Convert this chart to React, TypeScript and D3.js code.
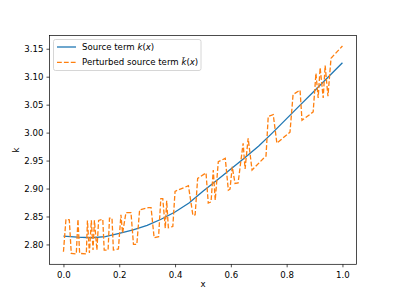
import { useEffect, useRef } from 'react';
import * as d3 from 'd3';

// Source term k(x)
const sourceX = [0, 0.05, 0.1, 0.15, 0.2, 0.25, 0.3, 0.35, 0.4, 0.45, 0.5, 0.55, 0.6, 0.65, 0.7, 0.75, 0.8, 0.85, 0.9, 0.95, 1.0];
const sourceK = [2.815, 2.813, 2.812, 2.814, 2.82, 2.826, 2.834, 2.845, 2.858, 2.874, 2.895, 2.915, 2.935, 2.955, 2.976, 3.0, 3.025, 3.05, 3.075, 3.1, 3.125];

// Perturbed source term, traced vertex by vertex
const pertX = [
  0, 0.009, 0.021, 0.028, 0.046, 0.052, 0.058, 0.082, 0.086, 0.093, 0.1, 0.106, 0.111, 0.12, 0.126, 0.141,
  0.146, 0.16, 0.165, 0.174, 0.179, 0.197, 0.206, 0.212, 0.224, 0.242, 0.251, 0.263, 0.273, 0.305, 0.314,
  0.325, 0.341, 0.349, 0.356, 0.365, 0.37, 0.376, 0.392, 0.4, 0.448, 0.464, 0.472, 0.481, 0.511, 0.519,
  0.529, 0.537, 0.544, 0.555, 0.58, 0.591, 0.597, 0.605, 0.615, 0.626, 0.644, 0.651, 0.662, 0.676, 0.719,
  0.726, 0.734, 0.752, 0.765, 0.812, 0.823, 0.848, 0.855, 0.895, 0.905, 0.913, 0.92, 0.931, 0.938, 0.948,
  0.959, 1.0,
];
const pertK = [
  2.787, 2.845, 2.844, 2.784, 2.783, 2.845, 2.784, 2.783, 2.843, 2.785, 2.843, 2.79, 2.843, 2.79, 2.843, 2.845,
  2.79, 2.79, 2.847, 2.847, 2.79, 2.792, 2.853, 2.82, 2.857, 2.857, 2.8, 2.8, 2.862, 2.866, 2.866,
  2.812, 2.814, 2.882, 2.882, 2.829, 2.878, 2.83, 2.832, 2.895, 2.905, 2.852, 2.853, 2.918, 2.928, 2.874,
  2.876, 2.933, 2.879, 2.948, 2.954, 2.897, 2.899, 2.939, 2.909, 2.91, 2.981, 2.935, 2.99, 2.933, 2.955,
  2.958, 3.029, 3.032, 2.981, 3.001, 3.068, 3.076, 3.022, 3.037, 3.106, 3.062, 3.116, 3.062, 3.12, 3.065,
  3.133, 3.155,
];

const xTicks = [0, 0.2, 0.4, 0.6, 0.8, 1.0];
const yTicks = [2.8, 2.85, 2.9, 2.95, 3.0, 3.05, 3.1, 3.15];

const FONT = 'DejaVu Sans, sans-serif';

const App = () => {
  const svgRef = useRef<SVGSVGElement>(null);

  useEffect(() => {
    if (!svgRef.current) return;
    d3.select(svgRef.current).selectAll('*').remove();

    const width = 396;
    const height = 297;
    const margin = { top: 35.6, right: 39.6, bottom: 32.7, left: 49.5 };

    const svg = d3.select(svgRef.current).attr('width', width).attr('height', height);

    const x = d3.scaleLinear().domain([-0.05, 1.05]).range([margin.left, width - margin.right]);
    const y = d3.scaleLinear().domain([2.7645, 3.1735]).range([height - margin.bottom, margin.top]);

    const line = d3
      .line<[number, number]>()
      .x((d) => x(d[0]))
      .y((d) => y(d[1]));

    // Curves
    svg
      .append('path')
      .datum(sourceX.map((v, i) => [v, sourceK[i]] as [number, number]))
      .attr('d', line)
      .attr('fill', 'none')
      .attr('stroke', '#1f77b4')
      .attr('stroke-width', 1.3);

    svg
      .append('path')
      .datum(pertX.map((v, i) => [v, pertK[i]] as [number, number]))
      .attr('d', line)
      .attr('fill', 'none')
      .attr('stroke', '#ff7f0e')
      .attr('stroke-width', 1.3)
      .attr('stroke-dasharray', '4.8,2.1');

    // Axes
    const xAxis = svg
      .append('g')
      .attr('transform', `translate(0,${height - margin.bottom})`)
      .call(d3.axisBottom(x).tickValues(xTicks).tickFormat(d3.format('.1f')).tickSize(3).tickPadding(4.5).tickSizeOuter(0));
    const yAxis = svg
      .append('g')
      .attr('transform', `translate(${margin.left},0)`)
      .call(d3.axisLeft(y).tickValues(yTicks).tickFormat(d3.format('.2f')).tickSize(3).tickPadding(3).tickSizeOuter(0));

    [xAxis, yAxis].forEach((g) => {
      g.select('.domain').remove();
      g.selectAll('line').attr('stroke', '#000').attr('stroke-width', 0.7);
      g.selectAll('text').attr('font-family', FONT).attr('font-size', 8.6).attr('fill', '#000');
    });

    // Frame
    svg
      .append('rect')
      .attr('x', margin.left)
      .attr('y', margin.top)
      .attr('width', width - margin.left - margin.right)
      .attr('height', height - margin.top - margin.bottom)
      .attr('fill', 'none')
      .attr('stroke', '#000')
      .attr('stroke-width', 0.7);

    // Axis labels
    svg
      .append('text')
      .attr('x', (margin.left + width - margin.right) / 2)
      .attr('y', 287)
      .attr('text-anchor', 'middle')
      .attr('font-family', FONT)
      .attr('font-size', 8.6)
      .text('x');

    svg
      .append('text')
      .attr('transform', `translate(18.5,${(margin.top + height - margin.bottom) / 2}) rotate(-90)`)
      .attr('text-anchor', 'middle')
      .attr('font-family', FONT)
      .attr('font-size', 8.6)
      .text('k');

    // Legend
    const legend = svg.append('g').attr('transform', 'translate(53.5,39.5)');
    legend
      .append('rect')
      .attr('width', 147.5)
      .attr('height', 31)
      .attr('rx', 2)
      .attr('fill', 'rgba(255,255,255,0.8)')
      .attr('stroke', '#cccccc')
      .attr('stroke-width', 0.8);

    const entries = [
      { color: '#1f77b4', dash: null as string | null, pre: 'Source term ', k: 'k' },
      { color: '#ff7f0e', dash: '4.8,2.1', pre: 'Perturbed source term ', k: 'k\u0303' },
    ];
    entries.forEach((e, i) => {
      const cy = 7.5 + i * 15.3;
      const ln = legend
        .append('line')
        .attr('x1', 3.5)
        .attr('x2', 22.5)
        .attr('y1', cy)
        .attr('y2', cy)
        .attr('stroke', e.color)
        .attr('stroke-width', 1.3);
      if (e.dash) ln.attr('stroke-dasharray', e.dash);
      const t = legend
        .append('text')
        .attr('x', 28.5)
        .attr('y', cy + 3.1)
        .attr('font-family', FONT)
        .attr('font-size', 8.6)
        .attr('fill', '#000');
      t.append('tspan').text(e.pre);
      t.append('tspan').attr('font-style', 'italic').text(e.k);
      t.append('tspan').text('(');
      t.append('tspan').attr('font-style', 'italic').text('x');
      t.append('tspan').text(')');
    });
  }, []);

  return (
    <svg ref={svgRef} style={{ position: 'absolute', left: 0, top: 0, background: '#fff' }} />
  );
};

export default App;
